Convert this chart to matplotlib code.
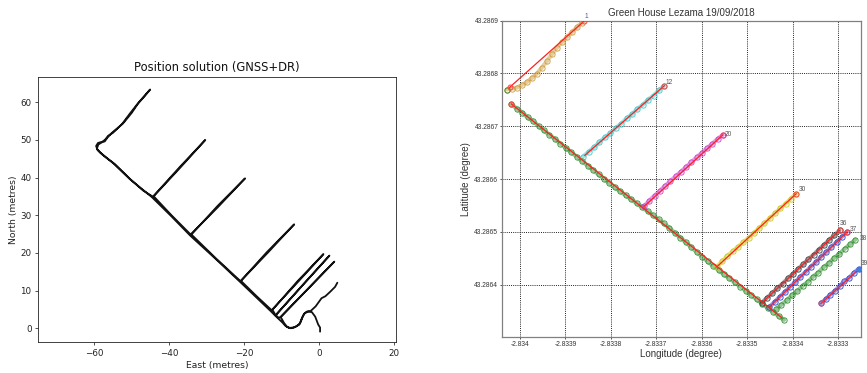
import matplotlib
matplotlib.use("Agg")
import matplotlib.pyplot as plt

# ---------------- Left panel data (GNSS+DR trajectory, metres) ----------------
path_east = [0.2, 0.2, -0.3, -1.1, -2.0, -2.9, -3.8, -4.3, -5.1, -6.0, -6.9, -8.1, -9.0, -9.8,
             -11.8, -13.0, -17.0, -21.1, -27.5, -34.4, -39.5, -44.6, -50.5, -54.9, -57.6, -59.1,
             -59.5, -59.0, -58.0, -57.2, -56.5, -55.4, -52.3, -50.0, -48.3, -46.5, -45.1,
             -46.8, -48.6, -50.5, -52.6, -55.0, -56.3, -57.0, -57.9, -58.9, -59.3, -58.4, -56.8,
             -54.5, -50.3, -47.0, -44.3,
             -37.3, -30.4, -37.4, -44.2, -39.4, -34.3,
             -27.0, -19.8, -27.1, -34.1, -27.6, -21.0,
             -13.8, -6.7, -14.0, -20.9, -16.8, -12.7,
             -5.8, 1.1, -5.9, -12.5, -12.0, -11.7,
             -4.5, 2.7, -4.4, -11.6, -11.0, -10.4,
             -3.2, 4.0, -3.1, -10.3, -9.4, -8.6, -7.6, -6.5, -5.3, -4.6, -4.0, -3.2, -2.3,
             -1.0, 0.6, 1.6, 2.9, 4.2, 4.8]
path_north = [-0.9, 0.2, 1.0, 3.1, 4.3, 4.4, 4.1, 3.4, 1.4, 0.6, 0.2, 0.1, 0.6, 1.5,
              3.4, 4.6, 8.4, 12.3, 18.3, 24.6, 29.8, 34.8, 39.6, 43.8, 46.0, 47.3,
              48.4, 49.2, 49.5, 49.6, 50.6, 51.8, 54.4, 57.2, 59.7, 61.7, 63.4,
              61.5, 59.4, 57.0, 54.2, 51.9, 51.1, 50.2, 49.4, 48.8, 47.7, 46.6, 45.3,
              43.6, 39.5, 36.6, 34.9,
              42.4, 50.0, 42.6, 35.1, 30.0, 24.9,
              32.2, 39.8, 32.5, 24.9, 18.6, 12.5,
              20.0, 27.6, 20.2, 12.6, 8.6, 4.8,
              12.2, 19.7, 12.4, 4.9, 4.1, 3.4,
              11.4, 19.3, 11.5, 3.5, 2.9, 2.9,
              10.3, 17.7, 10.4, 3.0, 1.4, 0.4, 0.0, 0.3, 1.0, 2.8, 3.9, 4.5, 4.6,
              5.8, 8.0, 8.5, 9.7, 11.0, 12.1]

left_xticks = [-60, -40, -20, 0, 20]
left_yticks = [0, 10, 20, 30, 40, 50, 60]

# ---------------- Right panel data (longitude / latitude, degrees) ----------------
trk1_lon = [-2.8340286, -2.8340176, -2.8340066, -2.8339956, -2.8339846, -2.8339736, -2.8339626,
            -2.8339515, -2.8339405, -2.8339295, -2.8339185, -2.8339075, -2.8338965, -2.8338855,
            -2.8338745, -2.8338634]
trk1_lat = [43.2867696, 43.2867715, 43.2867733, 43.2867781, 43.2867838, 43.2867913, 43.2867998,
            43.2868112, 43.2868234, 43.2868367, 43.2868490, 43.2868594, 43.2868688, 43.2868783,
            43.2868877, 43.2868962]

main_lon = [-2.834019, -2.834007, -2.833995, -2.833983, -2.833971, -2.833959, -2.833947, -2.833935,
            -2.833923, -2.833911, -2.833899, -2.833887, -2.833875, -2.833863, -2.833851, -2.833839,
            -2.833827, -2.833815, -2.833803, -2.833791, -2.833779, -2.833767, -2.833755, -2.833743,
            -2.833731, -2.833719, -2.833707, -2.833695, -2.833683, -2.833671, -2.833659, -2.833647,
            -2.833635, -2.833623, -2.833611, -2.833599, -2.833587, -2.833575, -2.833563, -2.833551,
            -2.833539, -2.833527, -2.833515, -2.833503, -2.833491, -2.833479, -2.833467, -2.833455,
            -2.833443, -2.833431, -2.833419]
main_lat = [43.2867420, 43.2867335, 43.2867260, 43.2867170, 43.2867098, 43.2867005, 43.2866920,
            43.2866835, 43.2866758, 43.2866670, 43.2866590, 43.2866505, 43.2866425, 43.2866340,
            43.2866255, 43.2866172, 43.2866088, 43.2866003, 43.2865920, 43.2865840, 43.2865765,
            43.2865690, 43.2865615, 43.2865540, 43.2865465, 43.2865390, 43.2865312, 43.2865235,
            43.2865157, 43.2865070, 43.2864978, 43.2864890, 43.2864800, 43.2864710, 43.2864618,
            43.2864528, 43.2864440, 43.2864356, 43.2864275, 43.2864195, 43.2864118, 43.2864040,
            43.2863962, 43.2863882, 43.2863800, 43.2863718, 43.2863640, 43.2863560, 43.2863482,
            43.2863405, 43.2863330]
green_start_lon = [-2.8340286]
green_start_lat = [43.2867690]

trk12_lon = [-2.8338606, -2.8338487, -2.8338368, -2.8338249, -2.8338130, -2.8338011, -2.8337892,
             -2.8337773, -2.8337654, -2.8337535, -2.8337416, -2.8337297, -2.8337178, -2.8337060,
             -2.8336941, -2.8336822]
trk12_lat = [43.2866425, 43.2866520, 43.2866600, 43.2866700, 43.2866790, 43.2866865, 43.2866970,
             43.2867045, 43.2867150, 43.2867225, 43.2867330, 43.2867405, 43.2867505, 43.2867580,
             43.2867685, 43.2867768]

trk20_lon = [-2.8337269, -2.8337153, -2.8337038, -2.8336922, -2.8336807, -2.8336691, -2.8336575,
             -2.8336460, -2.8336344, -2.8336229, -2.8336113, -2.8335998, -2.8335882, -2.8335766,
             -2.8335651, -2.8335535]
trk20_lat = [43.2865480, 43.2865590, 43.2865685, 43.2865775, 43.2865870, 43.2865955, 43.2866050,
             43.2866135, 43.2866228, 43.2866315, 43.2866408, 43.2866495, 43.2866585, 43.2866670,
             43.2866760, 43.2866836]

trk30_lon = [-2.8335668, -2.8335552, -2.8335435, -2.8335319, -2.8335202, -2.8335086, -2.8334969,
             -2.8334853, -2.8334736, -2.8334620, -2.8334503, -2.8334387, -2.8334270, -2.8334154,
             -2.8334037, -2.8333921]
trk30_lat = [43.2864335, 43.2864440, 43.2864545, 43.2864630, 43.2864715, 43.2864800, 43.2864885,
             43.2864975, 43.2865070, 43.2865160, 43.2865255, 43.2865350, 43.2865445, 43.2865535,
             43.2865630, 43.2865720]

trk36_lon = [-2.8334676, -2.8334562, -2.8334448, -2.8334334, -2.8334220, -2.8334106, -2.8333992,
             -2.8333879, -2.8333765, -2.8333651, -2.8333537, -2.8333423, -2.8333309, -2.8333195,
             -2.8333081, -2.8332967]
trk36_lat = [43.2863654, 43.2863750, 43.2863835, 43.2863935, 43.2864015, 43.2864115, 43.2864200,
             43.2864298, 43.2864382, 43.2864480, 43.2864565, 43.2864663, 43.2864748, 43.2864846,
             43.2864930, 43.2865026]

trk37_lon = [-2.8334509, -2.8334395, -2.8334282, -2.8334168, -2.8334054, -2.8333941, -2.8333827,
             -2.8333713, -2.8333600, -2.8333486, -2.8333373, -2.8333259, -2.8333145, -2.8333032,
             -2.8332918, -2.8332804]
trk37_lat = [43.2863578, 43.2863668, 43.2863770, 43.2863858, 43.2863960, 43.2864046, 43.2864150,
             43.2864236, 43.2864338, 43.2864425, 43.2864528, 43.2864615, 43.2864716, 43.2864803,
             43.2864905, 43.2864996]

trk38_lon = [-2.8334361, -2.8334245, -2.8334129, -2.8334013, -2.8333897, -2.8333781, -2.8333665,
             -2.8333549, -2.8333433, -2.8333317, -2.8333201, -2.8333085, -2.8332969, -2.8332853,
             -2.8332737, -2.8332621]
trk38_lat = [43.2863527, 43.2863620, 43.2863700, 43.2863798, 43.2863875, 43.2863975, 43.2864050,
             43.2864150, 43.2864228, 43.2864328, 43.2864405, 43.2864505, 43.2864580, 43.2864680,
             43.2864760, 43.2864851]

trk39_lon = [-2.8333377, -2.8333274, -2.8333170, -2.8333067, -2.8332963, -2.8332860, -2.8332756,
             -2.8332653, -2.8332549]
trk39_lat = [43.2863641, 43.2863720, 43.2863810, 43.2863880, 43.2863975, 43.2864060, 43.2864128,
             43.2864220, 43.2864297]

# reference (red) segments: start/end
ref_lon0 = [-2.8340227, -2.8340187, -2.8338570, -2.8337269, -2.8335668, -2.8334676, -2.8334509, -2.8333377]
ref_lat0 = [43.2867737, 43.2867422, 43.2866450, 43.2865480, 43.2864335, 43.2863654, 43.2863578, 43.2863641]
ref_lon1 = [-2.8338590, -2.8334236, -2.8336822, -2.8335535, -2.8333921, -2.8332967, -2.8332804, -2.8332620]
ref_lat1 = [43.2868991, 43.2863370, 43.2867768, 43.2866836, 43.2865720, 43.2865026, 43.2864996, 43.2864230]

# red circle markers (segment waypoints)
wp_lon = [-2.8340227, -2.8338590, -2.8340187, -2.8336822, -2.8335535, -2.8333921, -2.8332967, -2.8332804, -2.8333377]
wp_lat = [43.2867737, 43.2868991, 43.2867422, 43.2867768, 43.2866836, 43.2865720, 43.2865026, 43.2864996, 43.2863641]

# numbered labels
lab_text = ['1', '12', '20', '30', '36', '37', '38', '39']
lab_lon = [-2.8338590, -2.8336822, -2.8335535, -2.8333921, -2.8332967, -2.8332804, -2.8332621, -2.8332549]
lab_lat = [43.2868991, 43.2867768, 43.2866836, 43.2865720, 43.2865026, 43.2864996, 43.2864851, 43.2864297]

right_xticks = [-2.834, -2.8339, -2.8338, -2.8337, -2.8336, -2.8335, -2.8334, -2.8333]
right_xlabels = ['-2.834', '-2.8339', '-2.8338', '-2.8337', '-2.8336', '-2.8335', '-2.8334', '-2.8333']
right_yticks = [43.2864, 43.2865, 43.2866, 43.2867, 43.2868, 43.2869]
right_ylabels = ['43.2864', '43.2865', '43.2866', '43.2867', '43.2868', '43.2869']

# ---------------- Figure ----------------
fig = plt.figure(figsize=(8.67, 3.73), dpi=100)

# Left panel
ax1 = fig.add_axes([0.0442, 0.0823, 0.4126, 0.7121])
ax1.plot(path_east, path_north, color='#111111', lw=1.3, solid_joinstyle='round', solid_capstyle='round')
ax1.set_xlim(-74.9, 20.45)
ax1.set_ylim(-3.72, 66.8)
ax1.set_xticks(left_xticks)
ax1.set_yticks(left_yticks)
ax1.tick_params(labelsize=6.3, length=2.4, width=0.55, pad=2.5, colors='#222222')
for s in ax1.spines.values():
    s.set_linewidth(0.6)
    s.set_color('#222222')
ax1.set_title('Position solution (GNSS+DR)', fontsize=8.3, pad=4, color='#111111')
ax1.set_xlabel('East (metres)', fontsize=6.7, labelpad=2, color='#222222')
ax1.set_ylabel('North (metres)', fontsize=6.7, labelpad=1.5, color='#222222')

# Right panel
rfont = ['Liberation Sans', 'DejaVu Sans']
ax2 = fig.add_axes([0.5787, 0.0957, 0.4141, 0.8488])
ax2.set_axisbelow(True)

tracks = [
    (trk1_lon, trk1_lat, '#cd9b3c'),
    (main_lon, main_lat, '#2a8c2a'),
    (trk12_lon, trk12_lat, '#3cc8c8'),
    (trk20_lon, trk20_lat, '#c83cc8'),
    (trk30_lon, trk30_lat, '#c8c814'),
    (trk36_lon, trk36_lat, '#3a3a3a'),
    (trk37_lon, trk37_lat, '#3240c8'),
    (trk38_lon, trk38_lat, '#2a8c2a'),
    (trk39_lon, trk39_lat, '#3240c8'),
]
for lon, lat, c in tracks:
    ax2.plot(lon, lat, '-', color=c, lw=3.0, alpha=0.5, solid_capstyle='round', zorder=2)
    ax2.plot(lon, lat, 'o', color=c, mfc='none', ms=3.8, mew=0.6, zorder=3)
ax2.plot(green_start_lon, green_start_lat, 'o', color='#2a8c2a', mfc='none', ms=3.8, mew=0.6, zorder=3)
ax2.plot(trk39_lon[-1:], trk39_lat[-1:], 'o', color='#3a80e0', ms=3.0, zorder=4)

for x0, y0, x1, y1 in zip(ref_lon0, ref_lat0, ref_lon1, ref_lat1):
    ax2.plot([x0, x1], [y0, y1], color='#ff2020', lw=0.9, zorder=4)
ax2.plot(wp_lon, wp_lat, 'o', mfc='none', mec='#ff4040', ms=3.6, mew=0.7, zorder=5)

lab_off = [(0.3, 0.5), (1.0, -0.5), (1.4, -2.3), (2.2, 0.5), (0.5, 2.8), (2.3, -1.0), (3.4, -2.0), (1.4, 1.3)]
lab_col = ['#4a5ab0', '#555555', '#555555', '#555555', '#555555', '#555555', '#555555', '#555555']
for t, x, y, off, col in zip(lab_text, lab_lon, lab_lat, lab_off, lab_col):
    ax2.annotate(t, (x, y), xytext=off, textcoords='offset points', ha='left', va='bottom',
                 fontsize=4.8, color=col, family=rfont, annotation_clip=False, zorder=6)

ax2.set_xlim(-2.83404, -2.83325)
ax2.set_ylim(43.2863, 43.2869)
ax2.set_xticks(right_xticks)
ax2.set_xticklabels(right_xlabels, family=rfont)
ax2.set_yticks(right_yticks)
ax2.set_yticklabels(right_ylabels, family=rfont)
ax2.tick_params(labelsize=4.8, length=1.5, width=0.6, pad=1.0, colors='#333333')
ax2.grid(True, color='#222222', linestyle=(0, (1, 1.2)), lw=0.7)
for s in ax2.spines.values():
    s.set_linewidth(0.9)
    s.set_color('#808080')
ax2.set_title('Green House Lezama 19/09/2018', fontsize=7.0, family=rfont, color='#333333', pad=3.5)
ax2.set_xlabel('Longitude (degree)', fontsize=7.0, family=rfont, color='#333333', labelpad=1.2)
ax2.set_ylabel('Latitude (degree)', fontsize=7.0, family=rfont, color='#333333', labelpad=2.0)

fig.savefig('out.png', dpi=100)
